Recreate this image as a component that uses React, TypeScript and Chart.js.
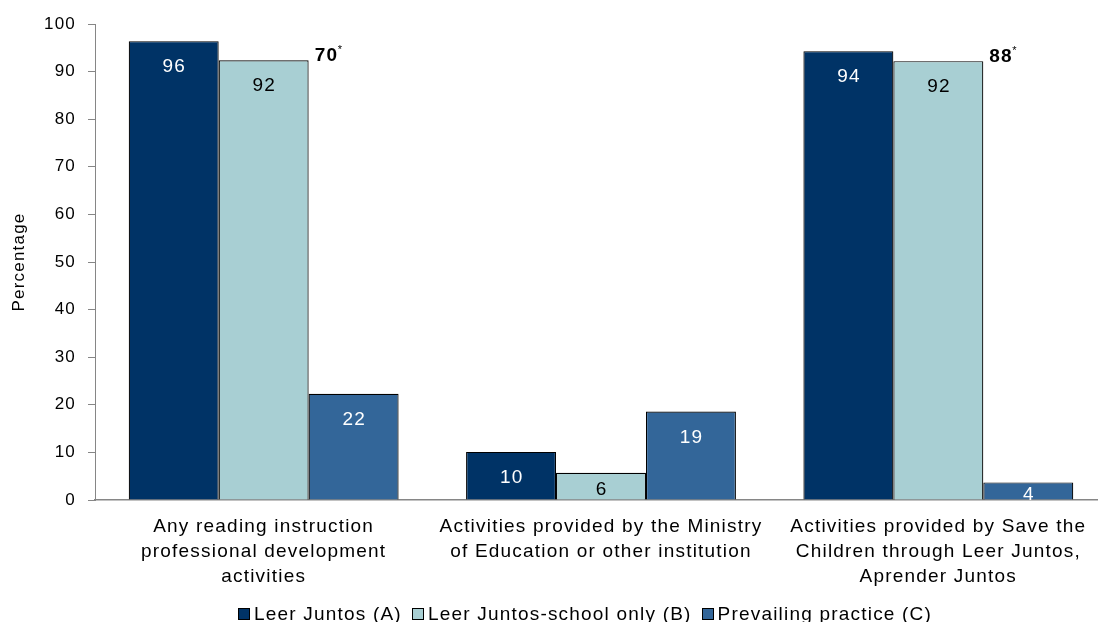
import React, { useEffect, useRef } from "react";
import { Chart, registerables } from "chart.js";

Chart.register(...registerables);

// ---- data ----
const categories: string[][] = [
  ["Any reading instruction", "professional development", "activities"],
  ["Activities provided by the Ministry", "of Education or other institution"],
  ["Activities provided by Save the", "Children through Leer Juntos,", "Aprender Juntos"],
];
const seriesNames = ["Leer Juntos (A)", "Leer Juntos-school only (B)", "Prevailing practice (C)"];
const leerJuntosA = [96.4, 10.1, 94.3];
const schoolOnlyB = [92.4, 5.7, 92.2];
const prevailingC = [22.3, 18.6, 3.7];
const noteLabels = ["70", "", "88"];
const yTicks = [0, 10, 20, 30, 40, 50, 60, 70, 80, 90, 100];

// ---- styles ----
const FAMILY = "'Liberation Sans', Arial, sans-serif";
const LS = "1.2px";
const AXIS = "#868686";
const seriesColors = ["#003366", "#A8CFD3", "#336699"];
const labelColors = ["#ffffff", "#000000", "#ffffff"];

const spacingPlugin = {
  id: "spacing",
  beforeLayout(chart: any) {
    chart.ctx.letterSpacing = LS;
  },
  beforeDraw(chart: any) {
    chart.ctx.letterSpacing = LS;
  },
};

const valueLabelPlugin = {
  id: "valueLabels",
  afterDatasetsDraw(chart: any) {
    const ctx = chart.ctx;
    chart.data.datasets.forEach((ds: any, di: number) => {
      const meta = chart.getDatasetMeta(di);
      meta.data.forEach((bar: any, i: number) => {
        const { x, y, base } = bar.getProps(["x", "y", "base"], true);
        const center = Math.min(y + 24.5, (y + base) / 2 + 2.5);
        ctx.save();
        ctx.letterSpacing = LS;
        ctx.font = `19px ${FAMILY}`;
        ctx.fillStyle = labelColors[di];
        ctx.textAlign = "center";
        ctx.textBaseline = "alphabetic";
        ctx.fillText(String(Math.round(ds.data[i])), x + 0.6, center + 6.8);
        ctx.restore();
      });
    });
  },
};

const notesPlugin = {
  id: "notes",
  afterDatasetsDraw(chart: any) {
    const ctx = chart.ctx;
    const meta = chart.getDatasetMeta(1);
    meta.data.forEach((bar: any, i: number) => {
      const note = noteLabels[i];
      if (!note) return;
      const { x, y, width } = bar.getProps(["x", "y", "width"], true);
      ctx.save();
      ctx.letterSpacing = LS;
      ctx.font = `bold 19px ${FAMILY}`;
      ctx.fillStyle = "#000";
      ctx.textAlign = "left";
      ctx.textBaseline = "alphabetic";
      const x0 = x + width / 2 + 6;
      ctx.fillText(note, x0, y + 0.5);
      const w = ctx.measureText(note).width;
      ctx.letterSpacing = "0px";
      ctx.font = `11px ${FAMILY}`;
      ctx.fillText("*", x0 + w - 0.5, y - 7.5);
      ctx.restore();
    });
  },
};

const legendPlugin = {
  id: "customLegend",
  afterDraw(chart: any) {
    const ctx = chart.ctx;
    ctx.save();
    ctx.letterSpacing = LS;
    ctx.font = `19px ${FAMILY}`;
    const box = 13;
    const gapText = 3;
    const gapItem = 10;
    const items = chart.data.datasets.map((ds: any) => ({
      label: ds.label,
      color: ds.backgroundColor,
      w: ctx.measureText(ds.label).width,
    }));
    const total =
      items.reduce((s: number, it: any) => s + box + gapText + it.w, 0) + gapItem * (items.length - 1);
    let x = Math.round((chart.width - total) / 2);
    const cy = 614;
    items.forEach((it: any) => {
      const bx = Math.round(x);
      ctx.fillStyle = it.color;
      ctx.fillRect(bx, cy - 6, box - 1, box - 1);
      ctx.strokeStyle = "#000";
      ctx.lineWidth = 1;
      ctx.strokeRect(bx + 0.5, cy - 6 + 0.5, box - 2, box - 2);
      ctx.fillStyle = "#000";
      ctx.textAlign = "left";
      ctx.textBaseline = "middle";
      ctx.fillText(it.label, x + box + gapText, cy + 1);
      x += box + gapText + it.w + gapItem;
    });
    ctx.restore();
  },
};

export default function App() {
  const ref = useRef<HTMLCanvasElement | null>(null);

  useEffect(() => {
    if (!ref.current) return;
    Chart.defaults.font.family = FAMILY;
    const chart = new Chart(ref.current, {
      type: "bar",
      data: {
        labels: categories,
        datasets: [leerJuntosA, schoolOnlyB, prevailingC].map((d, i) => ({
          label: seriesNames[i],
          data: d,
          backgroundColor: seriesColors[i],
          borderColor: "#000000",
          borderWidth: 1.2,
          categoryPercentage: 0.8,
          barPercentage: 1,
        })),
      },
      options: {
        animation: false,
        responsive: false,
        maintainAspectRatio: false,
        layout: { padding: { top: 24, right: 63, bottom: 0, left: 0 } },
        plugins: {
          legend: { display: false },
          tooltip: { enabled: false },
        },
        scales: {
          x: {
            grid: { display: false, drawTicks: false },
            border: { color: AXIS, width: 1.5 },
            ticks: {
              color: "#000",
              font: { size: 19, lineHeight: "25px" },
              padding: 14.5,
              maxRotation: 0,
              autoSkip: false,
            },
            afterFit: (s: any) => {
              s.height = 122;
            },
          },
          y: {
            min: 0,
            max: 100,
            afterBuildTicks: (s: any) => {
              s.ticks = yTicks.map((v) => ({ value: v }));
            },
            ticks: { color: "#000", font: { size: 17 }, padding: 12 },
            grid: { drawOnChartArea: false, drawTicks: true, tickLength: 7, color: AXIS },
            border: { color: AXIS, width: 1 },
            title: {
              display: true,
              text: "Percentage",
              color: "#000",
              font: { size: 17 },
              padding: { top: 9, bottom: 0 },
            },
            afterFit: (s: any) => {
              s.width = 95;
            },
          },
        },
      } as any,
      plugins: [spacingPlugin, valueLabelPlugin, notesPlugin, legendPlugin],
    });
    return () => chart.destroy();
  }, []);

  return (
    <div
      style={{
        position: "fixed",
        left: 0,
        top: 0,
        width: 1098,
        height: 622,
        overflow: "hidden",
        background: "#fff",
      }}
    >
      <canvas ref={ref} width={1170} height={622} style={{ width: 1170, height: 622, display: "block" }} />
    </div>
  );
}
